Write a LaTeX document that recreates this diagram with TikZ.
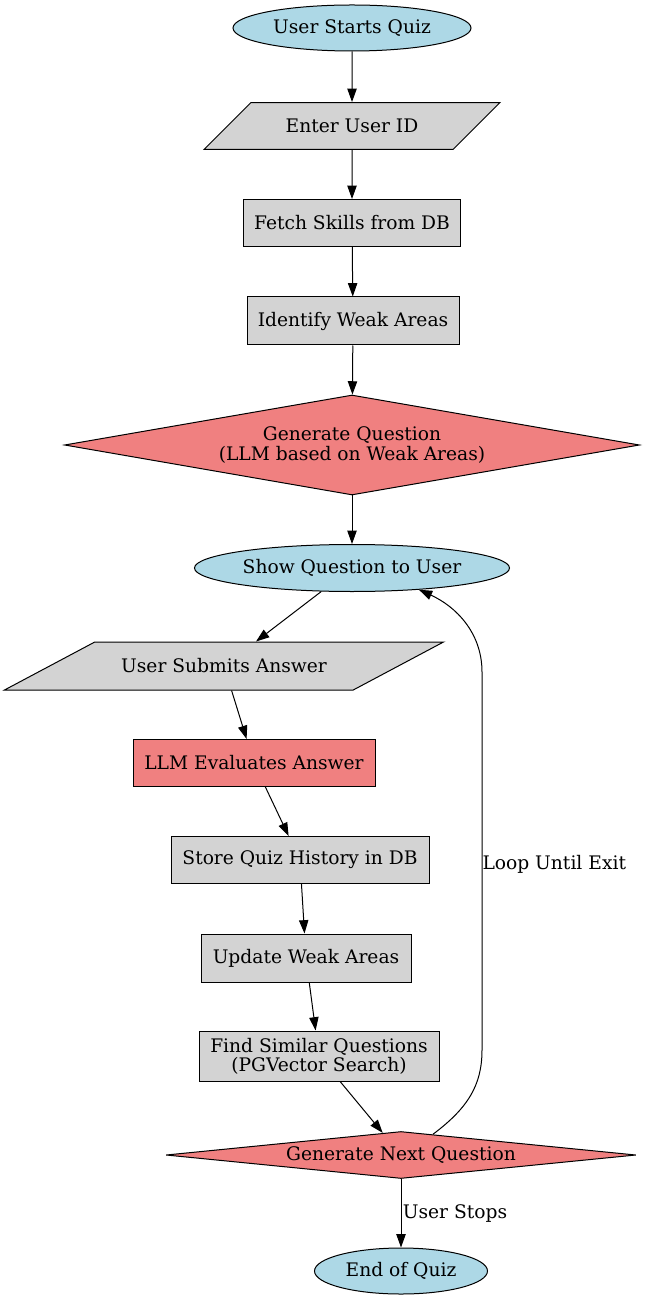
\documentclass[tikz,border=0pt]{standalone}
\usepackage{fontspec}
\setmainfont{DejaVu Serif}
\usetikzlibrary{shapes.geometric,arrows.meta}
\definecolor{termblue}{HTML}{ADD8E6}
\definecolor{boxgray}{HTML}{D3D3D3}
\definecolor{llmred}{HTML}{F08080}
\tikzset{
  base/.style={draw, line width=0.75pt, inner sep=0pt, align=center,
    font=\fontsize{14}{14.3}\selectfont},
  terminal/.style={base, ellipse, fill=termblue},
  process/.style={base, rectangle, fill=boxgray},
  llmbox/.style={base, rectangle, fill=llmred},
  inout/.style={base, trapezium, trapezium stretches body, fill=boxgray,
    text height=10pt, text depth=0pt},
  decision/.style={base, diamond, fill=llmred},
  flow/.style={-{Triangle[length=10pt,width=7pt]}, line width=0.75pt},
  edgelabel/.style={font=\fontsize{14}{14.3}\selectfont, inner sep=1pt},
}
\begin{document}
\begin{tikzpicture}[x=0.75pt,y=-0.75pt]
      \useasboundingbox (0,0) rectangle (645,1301);
      \node[terminal, minimum width=178.5pt, minimum height=34.5pt] (start) at (352,28) {User Starts Quiz};
      \node[inout, trapezium left angle=45, trapezium right angle=135,
        minimum width=222pt, inner ysep=12.6pt] (enterid) at (352,126) {Enter User ID};
      \node[process, minimum width=162.75pt, minimum height=35.25pt] (fetch) at (352,223) {Fetch Skills from DB};
      \node[process, minimum width=159pt, minimum height=36pt] (identify) at (353,321) {Identify Weak Areas};
      \node[decision, aspect=5.75, minimum width=431.25pt, minimum height=75pt] (genq) at (352,445)
        {Generate Question\\(LLM based on Weak Areas)};
      \node[terminal, minimum width=236.25pt, minimum height=35.25pt] (show) at (352,568) {Show Question to User};
      \node[inout, trapezium left angle=28, trapezium right angle=152,
        minimum width=329.25pt, inner ysep=13pt] (submit) at (224,666) {User Submits Answer};
      \node[llmbox, minimum width=181.5pt, minimum height=35.25pt] (evaluate) at (254,763) {LLM Evaluates Answer};
      \node[process, minimum width=193.5pt, minimum height=35.25pt] (history) at (300,860) {Store Quiz History in DB};
      \node[process, minimum width=157.5pt, minimum height=36pt] (update) at (306,958) {Update Weak Areas};
      \node[process, minimum width=180pt, minimum height=37.5pt] (similar) at (319,1056)
        {Find Similar Questions\\(PGVector Search)};
      \node[decision, aspect=10, minimum width=352.5pt, minimum height=35.25pt] (gennext) at (401,1155) {Generate Next Question};
      \node[terminal, minimum width=129.75pt, minimum height=34.5pt] (finish) at (401,1271) {End of Quiz};
      \begin{scope}[flow]
        \draw (start) -- (enterid);
        \draw (enterid) -- (fetch);
        \draw (fetch) -- (identify);
        \draw (identify) -- (genq);
        \draw (genq) -- (show);
        \draw (show) -- (submit);
        \draw (submit) -- (evaluate);
        \draw (evaluate) -- (history);
        \draw (history) -- (update);
        \draw (update) -- (similar);
        \draw (similar) -- (gennext);
        \draw (gennext) -- node[edgelabel, right] (stoplabel) {User Stops} (finish);
        \draw (gennext.33) .. controls (468,1108) and (482,1085) .. (482,1050)
          -- node[edgelabel, right, pos=0.49, inner sep=0pt] (looplabel) {Loop Until Exit} (482,672)
          .. controls (482,632) and (455,606) .. (show.-18);
      \end{scope}
    \end{tikzpicture}
\end{document}
